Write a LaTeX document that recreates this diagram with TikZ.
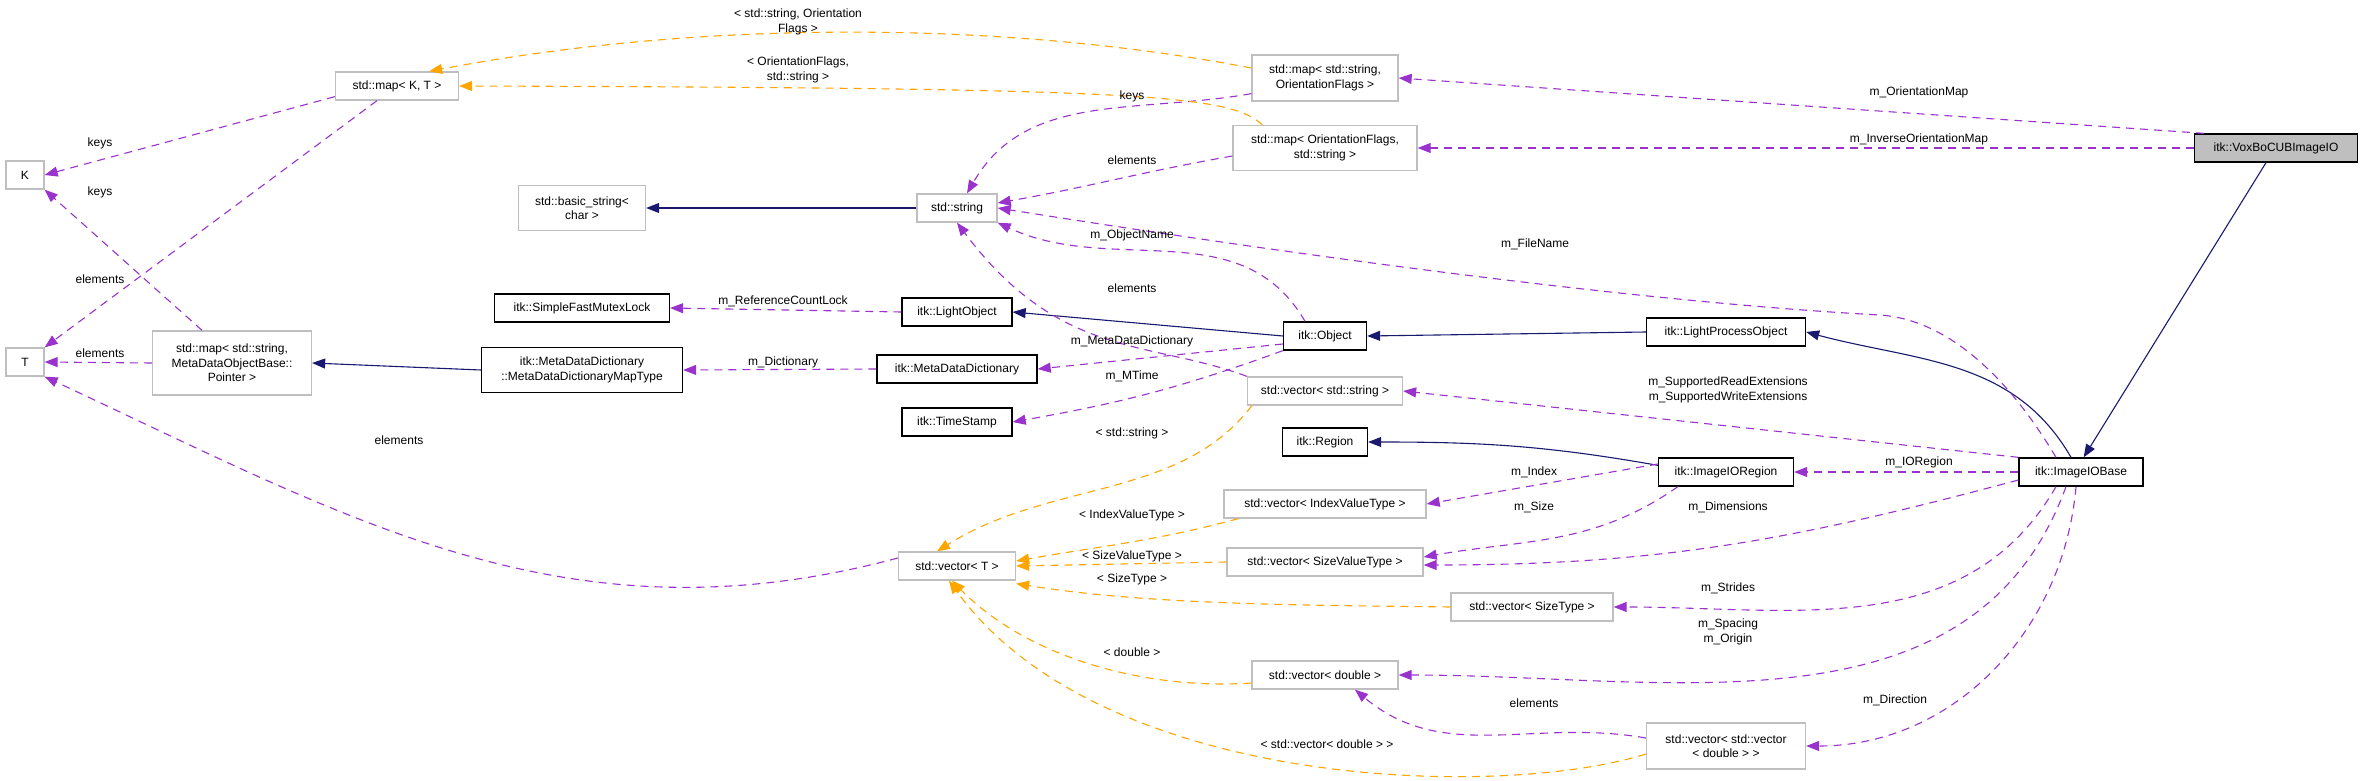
\documentclass[tikz,border=0pt]{standalone}
\usepackage{fontspec}
\setmainfont{Liberation Sans}
\usetikzlibrary{arrows.meta}
\definecolor{pur}{HTML}{9A32CD}
\definecolor{org}{HTML}{FFA500}
\definecolor{nav}{HTML}{191970}
\definecolor{gbd}{HTML}{BFBFBF}
\tikzset{
 x=1pt,y=-1pt,
 cls/.style={draw=black,line width=1.3pt,minimum height=28pt,inner sep=3pt,font=\fontsize{12}{14.5}\selectfont,align=center},
 ext/.style={draw=gbd,line width=1.3pt,minimum height=28pt,inner sep=3pt,font=\fontsize{12}{14.5}\selectfont,align=center},
 lbl/.style={font=\fontsize{12}{14.5}\selectfont,align=center,inner sep=0pt},
 tip/.style={-{Triangle[length=13pt,width=10pt]}},
 use/.style={tip,draw=pur,line width=1.1pt,dash pattern=on 8pt off 6pt},
 tpl/.style={tip,draw=org,line width=1.1pt,dash pattern=on 8pt off 6pt},
 inh/.style={tip,draw=nav,line width=1.1pt},
}
\begin{document}
\begin{tikzpicture}
\useasboundingbox (0,0) rectangle (2363,781);
% nodes
\node[ext,minimum width=38pt] (K) at (25,175) {K};
\node[ext,minimum width=38pt] (T) at (25,362) {T};
\node[ext,minimum width=123pt] (mapKT) at (397,86) {std::map< K, T >};
\node[ext,minimum width=127pt,minimum height=45pt] (bstr) at (582,208) {std::basic\_string<\\char >};
\node[cls,minimum width=175pt] (mutex) at (582,308) {itk::SimpleFastMutexLock};
\node[ext,minimum width=159pt,minimum height=64pt] (mapMD) at (232,363) {std::map< std::string,\\MetaDataObjectBase::\\Pointer >};
\node[cls,minimum width=201pt,minimum height=45pt] (mdmt) at (582,370) {itk::MetaDataDictionary\\::MetaDataDictionaryMapType};
\node[ext,minimum width=146pt,minimum height=46pt] (mapSO) at (1325,78) {std::map< std::string,\\OrientationFlags >};
\node[ext,minimum width=184pt,minimum height=45pt] (mapOS) at (1325,148) {std::map< OrientationFlags,\\std::string >};
\node[ext,minimum width=80pt] (str) at (957,208) {std::string};
\node[cls,minimum width=110pt] (lobj) at (957,312) {itk::LightObject};
\node[cls,minimum width=83pt] (obj) at (1325,336) {itk::Object};
\node[cls,minimum width=160pt] (mdd) at (957,369) {itk::MetaDataDictionary};
\node[ext,minimum width=155pt] (vstr) at (1325,391) {std::vector< std::string >};
\node[cls,minimum width=163pt,fill=gbd] (vox) at (2276,148) {itk::VoxBoCUBImageIO};
\node[cls,minimum width=159pt] (lpo) at (1726,332) {itk::LightProcessObject};
\node[cls,minimum width=135pt] (ioreg) at (1726,472) {itk::ImageIORegion};
\node[cls,minimum width=124pt] (iob) at (2081,472) {itk::ImageIOBase};
\node[cls,minimum width=110pt] (ts) at (957,422) {itk::TimeStamp};
\node[cls,minimum width=85pt] (reg) at (1325,442) {itk::Region};
\node[ext,minimum width=202pt] (vivt) at (1325,504) {std::vector< IndexValueType >};
\node[ext,minimum width=117pt] (vT) at (957,566) {std::vector< T >};
\node[ext,minimum width=196pt] (vsvt) at (1325,562) {std::vector< SizeValueType >};
\node[ext,minimum width=162pt] (vst) at (1532,607) {std::vector< SizeType >};
\node[ext,minimum width=146pt] (vd) at (1325,675) {std::vector< double >};
\node[ext,minimum width=159pt,minimum height=46pt] (vvd) at (1726,746) {std::vector< std::vector\\< double > >};
% inheritance
\draw[inh] (str) -- (bstr);
\draw[inh] (obj.west) -- (lobj.east);
\draw[inh] (lpo.west) -- (obj.east);
\draw[inh] ([xshift=-10pt]iob.north) to[out=120,in=-15] (lpo.east);
\draw[inh] ([xshift=-10pt]vox.south) -- ([xshift=-60pt]iob.north east);
\draw[inh] ([yshift=-8pt]ioreg.north west) to[out=170,in=0] (reg.east);
\draw[inh] (mdmt.west) -- (mapMD.east);
% usage
\draw[use] ([xshift=10pt]vox.north west) -- (mapSO.east);
\draw[use] (vox.west) -- (mapOS.east);
\draw[use] ([yshift=4pt]mapKT.south west) -- (K.east);
\draw[use] ([xshift=-20pt]mapKT.south) -- (T.north east);
\draw[use] ([xshift=-30pt]mapMD.north) -- (K.south east);
\draw[use] (mapMD.west) -- (T.east);
\draw[use] ([yshift=8pt]mapSO.south west) to[out=190,in=60] ([xshift=10pt]str.north);
\draw[use] ([yshift=-8pt]mapOS.west) to[out=190,in=10] ([yshift=5pt]str.east);
\draw[use] ([xshift=-20pt]obj.north) to[out=120,in=-25] (str.south east);
\draw[use] ([xshift=-25pt]iob.north) .. controls (2010,380) and (1950,320) .. (1880,315) .. controls (1600,300) and (1200,240) .. (str.east);
\draw[use] (vstr.north west) .. controls (1150,340) and (1060,360) .. (str.south);
\draw[use] (lobj.west) -- (mutex.east);
\draw[use] ([yshift=-8pt]obj.west) -- (mdd.east);
\draw[use] (mdd.west) -- (mdmt.east);
\draw[use] (obj.south west) to[out=200,in=10] (ts.east);
\draw[use] (iob.north west) -- (vstr.east);
\draw[use] (iob.west) -- (ioreg.east);
\draw[use] ([yshift=8pt]ioreg.west) -- (vivt.east);
\draw[use] ([xshift=20pt]ioreg.south west) to[out=215,in=10] ([yshift=5pt]vsvt.east);
\draw[use] ([yshift=-8pt]iob.west) to[out=195,in=0] ([yshift=-3pt]vsvt.east);
\draw[use] ([xshift=-25pt]iob.south) to[out=240,in=0] (vst.east);
\draw[use] ([xshift=-15pt]iob.south) to[out=250,in=0] (vd.east);
\draw[use] ([xshift=-5pt]iob.south) to[out=265,in=0] (vvd.east);
\draw[use] ([yshift=8pt]vvd.west) to[out=170,in=-40] ([xshift=30pt]vd.south);
\draw[use] ([yshift=8pt]vT.west) to[out=195,in=-25] (T.south east);
% templates
\draw[tpl] ([yshift=10pt]mapSO.west) .. controls (1000,20) and (700,20) .. ([xshift=-30pt]mapKT.north east);
\draw[tpl] ([xshift=30pt]mapOS.north west) .. controls (1230,95) and (1150,88) .. (mapKT.east);
\draw[tpl] ([xshift=5pt]vstr.south west) .. controls (1180,500) and (1050,480) .. ([xshift=-20pt]vT.north);
\draw[tpl] ([xshift=15pt]vivt.south west) to[out=195,in=10] ([yshift=5pt]vT.east);
\draw[tpl] (vsvt.west) -- (vT.east);
\draw[tpl] (vst.west) .. controls (1300,605) and (1150,605) .. ([yshift=-3pt]vT.south east);
\draw[tpl] ([yshift=-8pt]vd.west) .. controls (1150,690) and (1030,660) .. ([xshift=-5pt]vT.south);
\draw[tpl] ([yshift=-8pt]vvd.west) .. controls (1500,800) and (1100,790) .. ([xshift=-8pt]vT.south);
% labels
\node[lbl] (l1) at (798,22) {< std::string, Orientation\\Flags >};
\node[lbl] (l2) at (798,70) {< OrientationFlags,\\std::string >};
\node[lbl] (l3) at (100,143) {keys};
\node[lbl] (l4) at (100,192) {keys};
\node[lbl] (l5) at (100,279) {elements};
\node[lbl] (l6) at (100,353) {elements};
\node[lbl] (l7) at (1132,96) {keys};
\node[lbl] (l8) at (1132,160) {elements};
\node[lbl] (l9) at (1132,235) {m\_ObjectName};
\node[lbl] (l10) at (1535,244) {m\_FileName};
\node[lbl] (l11) at (1132,288) {elements};
\node[lbl] (l12) at (783,301) {m\_ReferenceCountLock};
\node[lbl] (l13) at (1132,341) {m\_MetaDataDictionary};
\node[lbl] (l14) at (1132,376) {m\_MTime};
\node[lbl] (l15) at (783,362) {m\_Dictionary};
\node[lbl] (l16) at (1919,92) {m\_OrientationMap};
\node[lbl] (l17) at (1919,139) {m\_InverseOrientationMap};
\node[lbl] (l18) at (1728,390) {m\_SupportedReadExtensions\\m\_SupportedWriteExtensions};
\node[lbl] (l19) at (1919,462) {m\_IORegion};
\node[lbl] (l20) at (1132,433) {< std::string >};
\node[lbl] (l21) at (1534,472) {m\_Index};
\node[lbl] (l22) at (1132,515) {< IndexValueType >};
\node[lbl] (l23) at (1534,507) {m\_Size};
\node[lbl] (l24) at (1728,507) {m\_Dimensions};
\node[lbl] (l25) at (1132,556) {< SizeValueType >};
\node[lbl] (l26) at (1132,579) {< SizeType >};
\node[lbl] (l27) at (1728,588) {m\_Strides};
\node[lbl] (l28) at (1728,632) {m\_Spacing\\m\_Origin};
\node[lbl] (l29) at (1132,652) {< double >};
\node[lbl] (l30) at (1534,703) {elements};
\node[lbl] (l31) at (1327,744) {< std::vector< double > >};
\node[lbl] (l32) at (399,440) {elements};
\node[lbl] (l33) at (1895,700) {m\_Direction};
\end{tikzpicture}
\end{document}
